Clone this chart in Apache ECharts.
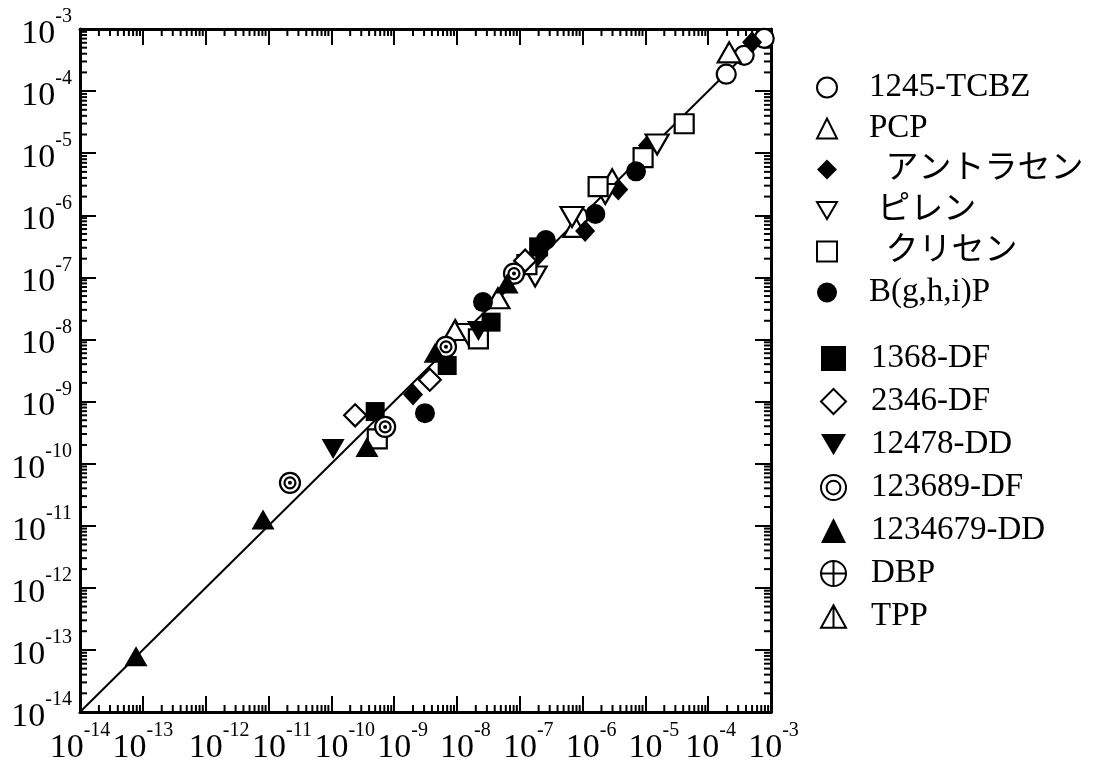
<!DOCTYPE html>
<html>
<head>
<meta charset="utf-8">
<script src="https://cdn.jsdelivr.net/npm/echarts@6/dist/echarts.min.js"></script>
<style>
html, body { margin: 0; padding: 0; background: #fff; }
#chart-panel { width: 1110px; height: 765px; }
</style>
</head>
<body>
<div id="chart-panel"></div>
<script>
// 軸の範囲 (両対数)
var axisMin = 1e-14;
var axisMax = 1e-3;
// 補助目盛り: 各桁の 2〜9
var minorSteps = [2, 3, 4, 5, 6, 7, 8, 9];
var decadeExps = [-14, -13, -12, -11, -10, -9, -8, -7, -6, -5, -4];
// 1:1 線
var lineEnds = [1e-14, 1e-3];

// 系列名 (凡例の順)
var names1 = ['1245-TCBZ', 'PCP', '  アントラセン', ' ピレン', '  クリセン', 'B(g,h,i)P'];
var names2 = ['1368-DF', '2346-DF', '12478-DD', '123689-DF', '1234679-DD', 'DBP', 'TPP'];

// [x, y]
var tcbz = [[8.5e-7, 9.4e-7], [1.94e-4, 1.87e-4], [3.74e-4, 3.77e-4], [7.8e-4, 7.05e-4]];
var pcp = [[9.4e-9, 1.42e-8], [4.5e-8, 4.6e-8], [7.6e-7, 6.5e-7], [2.96e-6, 3.8e-6], [2.16e-4, 4.2e-4]];
var anthracene = [[2.0e-9, 1.3e-9], [1.9e-7, 2.2e-7], [1.1e-6, 5.6e-7], [3.7e-6, 2.6e-6], [1.1e-5, 1.33e-5], [5.0e-4, 6.1e-4]];
var pyrene = [[1.5e-8, 1.22e-8], [1.76e-7, 1.03e-7], [6.8e-7, 9.4e-7], [2.3e-6, 2.2e-6], [1.54e-5, 1.38e-5]];
var chrysene = [[5.4e-10, 2.5e-10], [2.2e-8, 1.02e-8], [1.3e-7, 1.6e-7], [1.77e-6, 2.9e-6], [9.2e-6, 8.5e-6], [4.15e-5, 2.98e-5]];
var bghip = [[3.1e-9, 6.5e-10], [2.6e-8, 4.0e-8], [2.6e-7, 4.0e-7], [1.6e-6, 1.05e-6], [7.1e-6, 5.1e-6]];
var df1368 = [[5.0e-10, 6.9e-10], [7.0e-9, 3.8e-9], [3.5e-8, 1.9e-8], [2.0e-7, 3.1e-7]];
var df2346 = [[2.4e-10, 6.0e-10], [3.7e-9, 2.25e-9], [1.22e-7, 1.86e-7]];
var dd12478 = [[1.07e-10, 1.72e-10], [2.2e-8, 1.37e-8]];
var df123689 = [[2.2e-11, 4.9e-11], [7.2e-10, 3.9e-10], [6.7e-9, 7.6e-9], [8.1e-8, 1.15e-7]];
var dd1234679 = [[7.8e-14, 7.9e-14], [8.2e-12, 1.26e-11], [3.7e-10, 1.85e-10], [4.5e-9, 6.1e-9], [6.3e-8, 8.0e-8]];
var dbp = [];
var tpp = [];

var minorTickVals = [];
decadeExps.forEach(function (e) {
    minorSteps.forEach(function (k) {
        minorTickVals.push([k * Math.pow(10, e), k * Math.pow(10, e)]);
    });
});

var fontSerif = "'Liberation Serif', 'Noto Sans CJK JP', serif";
var downTri = 'path://M0,0 L20,0 L10,17 Z';
var ringSym = 'path://M0,10 A10,10 0 1,0 20,10 A10,10 0 1,0 0,10 Z M4.5,10 A5.5,5.5 0 1,0 15.5,10 A5.5,5.5 0 1,0 4.5,10 Z';
var crossCircle = 'path://M0,10 A10,10 0 1,0 20,10 A10,10 0 1,0 0,10 Z M10,0 L10,20 M0,10 L20,10';
var splitTri = 'path://M10,0 L20,18 L0,18 Z M10,0 L10,18';

var openStyle = { color: '#fff', borderColor: '#000', borderWidth: 2.2, opacity: 1 };
var fillStyle = { color: '#000', borderColor: '#000', borderWidth: 0, opacity: 1 };

function mk(name, data, symbol, size, style) {
    return {
        name: name,
        type: 'scatter',
        data: data,
        symbol: symbol,
        symbolSize: size,
        itemStyle: style,
        emphasis: { disabled: true },
        z: 3
    };
}

// y軸用: 10 と指数
function expLabelY(value) {
    var e = Math.round(Math.log10(value));
    return '{b|10}{s|' + e + '}';
}

// x軸用: 左に指数と同じ幅の空きを入れて「10」を目盛りの真下に置く
// (両端の2つずつは重なり判定で消されないよう空きを詰める)
function expLabelX(value) {
    var e = Math.round(Math.log10(value));
    var pad = '';
    if (e <= -13) {
        pad = '';
    } else if (e >= -4) {
        pad = '{q|}';
    } else if (e <= -10) {
        pad = '{p2|}';
    } else {
        pad = '{p1|}';
    }
    return pad + '{b|10}{s|' + e + '}';
}

function logAxis(pos, showLabel) {
    var horiz = pos === 'bottom' || pos === 'top';
    return {
        type: 'log',
        logBase: 10,
        position: pos,
        min: axisMin,
        max: axisMax,
        splitNumber: 11,
        interval: 1,
        axisLine: { show: true, onZero: false, lineStyle: { color: '#000', width: 3 } },
        axisTick: { show: true, inside: true, length: 16, lineStyle: { color: '#000', width: 2 } },
        splitLine: { show: false },
        axisLabel: {
            show: showLabel,
            showMinLabel: true,
            showMaxLabel: true,
            hideOverlap: false,
            margin: horiz ? 9 : 8,
            formatter: horiz ? expLabelX : expLabelY,
            color: '#000',
            rich: {
                p1: { width: 17 },
                p2: { width: 27 },
                q: { width: 5 },
                b: { fontSize: 34, lineHeight: 44, fontFamily: fontSerif, color: '#000', verticalAlign: 'bottom' },
                s: { fontSize: 20, lineHeight: 20, fontFamily: fontSerif, color: '#000', verticalAlign: 'top' }
            }
        }
    };
}

function renderMinorTick(params, api) {
    var v = api.value(0);
    var cs = params.coordSys;
    var px = api.coord([v, axisMin])[0];
    var py = api.coord([axisMin, v])[1];
    var len = 7;
    var st = { stroke: '#000', lineWidth: 2 };
    var bottom = cs.y + cs.height;
    var right = cs.x + cs.width;
    return {
        type: 'group',
        children: [
            { type: 'line', shape: { x1: px, y1: bottom, x2: px, y2: bottom - len }, style: st },
            { type: 'line', shape: { x1: px, y1: cs.y, x2: px, y2: cs.y + len }, style: st },
            { type: 'line', shape: { x1: cs.x, y1: py, x2: cs.x + len, y2: py }, style: st },
            { type: 'line', shape: { x1: right, y1: py, x2: right - len, y2: py }, style: st }
        ]
    };
}

function legendBox(names, top, left, itemSize, gap, pad) {
    return {
        orient: 'vertical',
        left: left,
        top: top,
        data: names,
        itemWidth: itemSize,
        itemHeight: itemSize,
        itemGap: gap,
        selectedMode: false,
        formatter: function (name) { return '{t|' + name + '}'; },
        textStyle: {
            color: '#000',
            rich: {
                t: { fontSize: 33, lineHeight: 32, fontFamily: fontSerif, color: '#000', padding: [0, 0, 0, pad] }
            }
        }
    };
}

var chartOption = {
    backgroundColor: '#fff',
    animation: false,
    grid: { left: 80, right: 339, top: 29, bottom: 48, containLabel: false },
    xAxis: [logAxis('bottom', true), logAxis('top', false)],
    yAxis: [logAxis('left', true), logAxis('right', false)],
    legend: [
        legendBox(names1, 66, 811, 20, 8, 27),
        legendBox(names2, 337, 815, 25, 10, 20)
    ],
    series: [
        {
            type: 'line',
            data: [[lineEnds[0], lineEnds[0]], [lineEnds[1], lineEnds[1]]],
            showSymbol: false,
            symbol: 'none',
            lineStyle: { color: '#000', width: 2 },
            silent: true,
            z: 2
        },
        {
            type: 'custom',
            data: minorTickVals,
            renderItem: renderMinorTick,
            silent: true,
            z: 1
        },
        mk(names1[0], tcbz, 'circle', 19, openStyle),
        mk(names1[1], pcp, 'triangle', [23, 20], openStyle),
        mk(names1[2], anthracene, 'diamond', [20, 22], fillStyle),
        mk(names1[3], pyrene, downTri, [23, 20], openStyle),
        mk(names1[4], chrysene, 'rect', 19, openStyle),
        mk(names1[5], bghip, 'circle', 20, fillStyle),
        mk(names2[0], df1368, 'rect', 19, fillStyle),
        mk(names2[1], df2346, 'diamond', [22, 22], openStyle),
        mk(names2[2], dd12478, downTri, [23, 20], fillStyle),
        mk(names2[3], df123689, ringSym, 20, openStyle),
        {
            type: 'scatter',
            data: df123689,
            symbol: 'circle',
            symbolSize: 4,
            itemStyle: { color: '#000', opacity: 1 },
            silent: true,
            z: 3
        },
        mk(names2[4], dd1234679, 'triangle', [23, 20], fillStyle),
        mk(names2[5], dbp, crossCircle, 20, openStyle),
        mk(names2[6], tpp, splitTri, [20, 18], openStyle)
    ]
};

var chartPanel = document.getElementById('chart-panel');
var myChart = echarts.init(chartPanel);
myChart.setOption(chartOption);
</script>
</body>
</html>
